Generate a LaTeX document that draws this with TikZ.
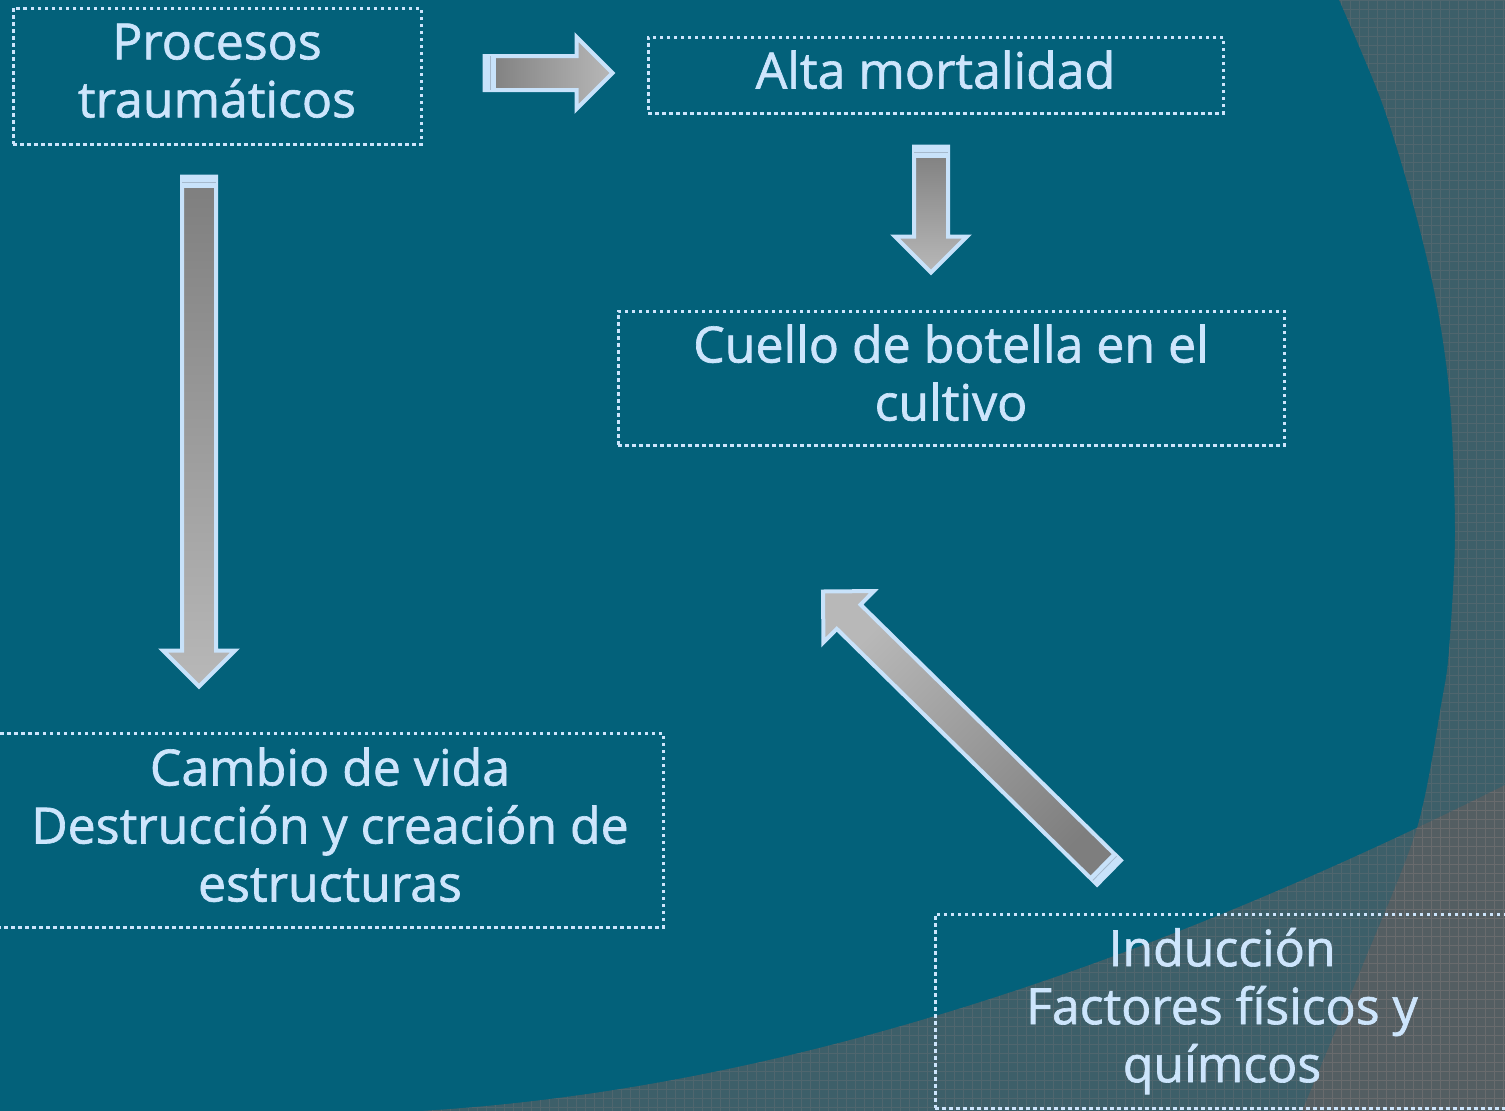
\documentclass[tikz,border=0pt]{standalone}
\usepackage{fontspec}
\setmainfont{Open Sans}[FakeBold=1.3]
\usetikzlibrary{calc}
\definecolor{bg}{RGB}{3,97,122}
\definecolor{ov}{RGB}{100,94,94}
\definecolor{txt}{RGB}{205,229,252}
\definecolor{edgeblue}{RGB}{200,226,250}
\definecolor{agrayA}{RGB}{126,126,126}
\definecolor{agrayB}{RGB}{184,184,184}
\definecolor{gridc}{RGB}{135,125,125}
\definecolor{capline}{RGB}{165,185,205}
\newcommand\blockarrow[3]{%
  \coordinate (hb) at ($(#2)!36pt!(#1)$);
  \coordinate (tl) at ($(#1)!17pt!90:(#2)$);
  \coordinate (tr) at ($(#1)!17pt!-90:(#2)$);
  \coordinate (bl) at ($(hb)!17pt!90:(#2)$);
  \coordinate (br) at ($(hb)!17pt!-90:(#2)$);
  \coordinate (hl) at ($(hb)!36pt!90:(#2)$);
  \coordinate (hr) at ($(hb)!36pt!-90:(#2)$);
  \path[arrowbody, shading angle=#3] (tl) -- (bl) -- (hl) -- (#2) -- (hr) -- (br) -- (tr) -- cycle;
  \fill[edgeblue] (tl) -- ($(tl)!11pt!(bl)$) -- ($(tr)!11pt!(br)$) -- (tr) -- cycle;
  \draw[capline, line width=0.8pt] ($(tl)!6pt!(bl)$) -- ($(tr)!6pt!(br)$);
}
\newcommand\dstrut{\rule[-11pt]{0pt}{11pt}}
\begin{document}
\begin{tikzpicture}[x=1pt, y=-1pt,
  box/.style={draw=txt, line width=3pt, dash pattern=on 3.5pt off 3.5pt, text=txt,
    align=center, inner sep=0pt, font=\fontsize{50}{58}\selectfont},
  arrowbody/.style={draw=edgeblue, line width=4pt, line join=miter, top color=agrayA, bottom color=agrayB},
  overlay/.style={fill=ov, opacity=0.6},
  rightregion/.style={insert path={plot[smooth] coordinates {(1337,-5) (1381,100) (1412,200) (1436,300) (1450,400) (1455,535) (1449,650) (1442,700) (1417,828) (1362,967) (1300,1116)} -- (1515,1116) -- (1515,-5) -- cycle}},
  bottomregion/.style={insert path={(420,1111) .. controls (780,1090) and (1145,965) .. (1505,785) -- (1520,778) -- (1520,1125) -- (400,1125) -- cycle}},
  gridtex/.style={draw=gridc, line width=0.5pt, opacity=0.25}
]
\useasboundingbox (0,0) rectangle (1505,1111);
\fill[bg] (0,0) rectangle (1505,1111);
% background overlays
\fill[overlay, rightregion];
\fill[overlay, bottomregion];
\begin{scope}
  \clip[rightregion];
  \draw[gridtex] (1200,0) grid[step=9pt] (1505,1111);
\end{scope}
\begin{scope}
  \clip[bottomregion];
  \draw[gridtex] (400,700) grid[step=9pt] (1505,1111);
\end{scope}
% boxes
\node[box, minimum width=408, minimum height=136] (proc) at (217,76) {Procesos\\traumáticos\dstrut};
\node[box, minimum width=575, minimum height=76] (alta) at (935.5,75) {Alta mortalidad\dstrut};
\node[box, minimum width=666, minimum height=134] (cuello) at (951,378) {Cuello de botella en el\\cultivo\dstrut};
\node[box, minimum width=666, minimum height=194] (cambio) at (330,830) {Cambio de vida\\Destrucción y creación de\\estructuras\dstrut};
\node[box, minimum width=574, minimum height=194] (induc) at (1222,1011) {Inducción\\Factores físicos y\\químcos\dstrut};
% arrows
\coordinate (a1t) at ($(proc.east)+(62,-3)$);
\coordinate (a1h) at ($(alta.west)+(-34,-2)$);
\coordinate (a2t) at ($(alta.south)+(-4.5,32)$);
\coordinate (a2h) at ($(cuello.north)+(-20,-37)$);
\coordinate (a3t) at ($(proc.south)+(-18,31)$);
\coordinate (a3h) at ($(cambio.north)+(-131,-45)$);
\coordinate (a4t) at ($(induc.north)+(-113,-40)$);
\coordinate (a4h) at ($(cuello.south)+(-128,145)$);
\blockarrow{a1t}{a1h}{90}
\blockarrow{a2t}{a2h}{0}
\blockarrow{a3t}{a3h}{0}
\blockarrow{a4t}{a4h}{225}
\end{tikzpicture}
\end{document}
